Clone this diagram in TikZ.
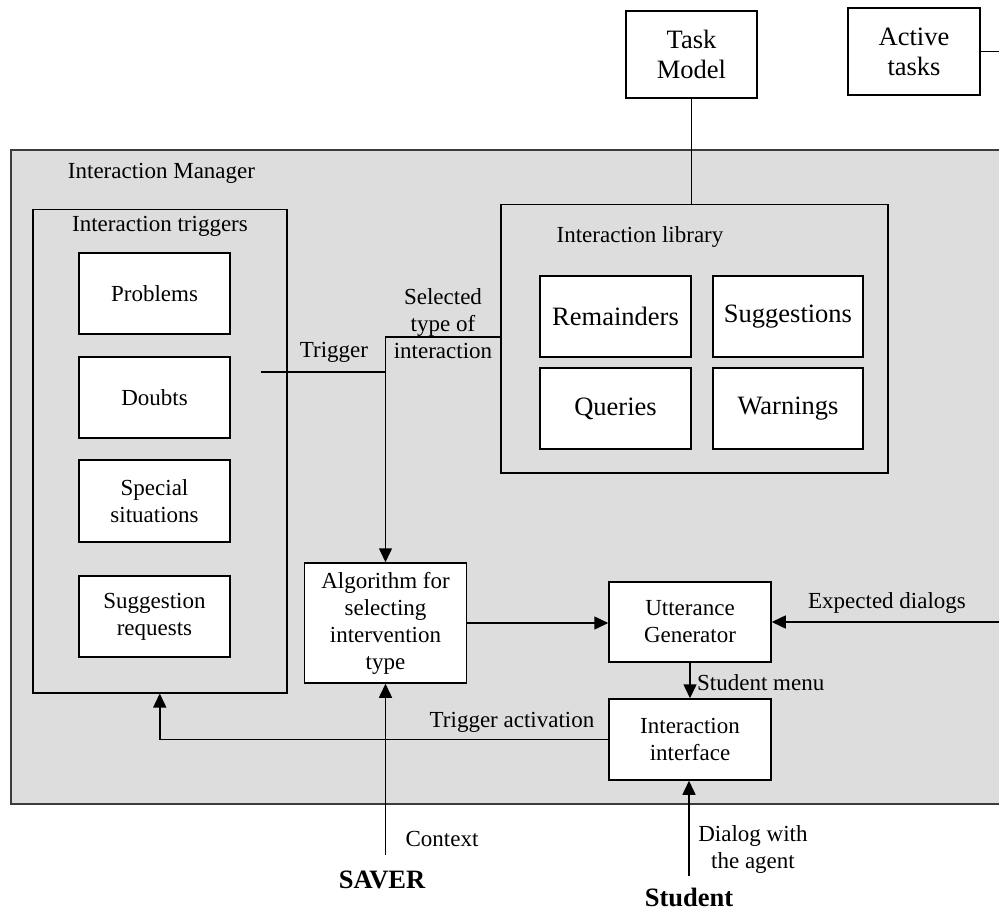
\documentclass[tikz,border=0pt]{standalone}
\usepackage{fontspec}
\setmainfont{Liberation Serif}
\usetikzlibrary{arrows.meta}

\definecolor{panelgray}{RGB}{221,221,221}
\definecolor{paneledge}{RGB}{60,60,60}

\tikzset{
  every node/.style={font=\fontsize{23}{27}\selectfont},
  bigtext/.style={font=\fontsize{26.5}{30}\selectfont},
  boldtext/.style={font=\fontsize{26.5}{30}\selectfont\bfseries},
  box/.style={draw=black, fill=white, line width=1.5pt, inner sep=0pt, align=center},
  groupbox/.style={draw=black, line width=1.5pt, inner sep=0pt},
  panelbox/.style={draw=paneledge, fill=panelgray, line width=1.7pt, inner sep=0pt},
  label/.style={inner sep=0pt, align=center},
  wire/.style={line width=1.5pt},
  arrow/.style={wire, -{Triangle[length=14pt,width=13pt]}}
}

\begin{document}
\begin{tikzpicture}[x=1pt,y=-1pt]
\clip (0,0) rectangle (999,912);
\fill[white] (0,0) rectangle (999,912);

% outer manager panel (runs past the right edge)
\node[panelbox, anchor=north west, minimum width=1010pt, minimum height=654pt] (im) at (10,149) {};
\node[label] (imlabel) at (161.5,173) {Interaction Manager};

% external models
\node[box, bigtext, minimum width=131pt, minimum height=87pt] (taskmodel) at (691.5,54.5) {Task\\Model};
\node[box, bigtext, minimum width=132pt, minimum height=87pt] (active) at (914,51.5) {Active\\tasks};

% trigger group
\node[groupbox, anchor=north west, minimum width=254pt, minimum height=483pt] (trig) at (32,209) {};
\node[label] (triglabel) at (160,226) {Interaction triggers};
\node[box, minimum width=151pt, minimum height=81pt] (problems) at (154.5,293.5) {Problems};
\node[box, minimum width=151pt, minimum height=81pt] (doubts) at (154.5,397.5) {Doubts};
\node[box, minimum width=151pt, minimum height=82pt] (special) at (154.5,501) {Special\\situations};
\node[box, minimum width=151pt, minimum height=81pt] (sugreq) at (154.5,616.5) {Suggestion\\requests};

% interaction library group
\node[groupbox, anchor=north west, minimum width=387pt, minimum height=268pt] (lib) at (500,204) {};
\node[label] (liblabel) at (640,237) {Interaction library};
\node[box, bigtext, minimum width=151pt, minimum height=81pt] (remainders) at (615.5,316.5) {Remainders};
\node[box, bigtext, minimum width=150pt, minimum height=81pt] (suggestions) at (788,316.5) {Suggestions};
\node[box, bigtext, minimum width=151pt, minimum height=81pt] (queries) at (615.5,408.5) {Queries};
\node[box, bigtext, minimum width=150pt, minimum height=81pt] (warnings) at (788,408.5) {Warnings};

% processing blocks
\node[box, minimum width=162pt, minimum height=120pt] (algo) at (385.5,623) {Algorithm for\\selecting\\intervention\\type};
\node[box, minimum width=162pt, minimum height=80pt] (utt) at (690,622) {Utterance\\Generator};
\node[box, minimum width=162pt, minimum height=81pt] (iface) at (690,739.5) {Interaction\\interface};

% external actors
\node[label, boldtext] (saver) at (382,880) {SAVER};
\node[label, boldtext] (student) at (689,897) {Student};

% connector labels
\node[label] (trigtxt) at (334,352) {Trigger};
\node[label] (seltxt) at (443,324) {Selected\\type of\\interaction};
\node[label] (exptxt) at (887,603) {Expected dialogs};
\node[label, anchor=west] (menutxt) at (697,683) {Student menu};
\node[label] (acttxt) at (512,722) {Trigger activation};
\node[label] (ctxtxt) at (442,839) {Context};
\node[label] (dlgtxt) at (753,849) {Dialog with\\the agent};

% free ends and bends
\coordinate (activeEnd) at (1005,51.5);
\coordinate (expStart) at (1005,622);
\coordinate (trigStart) at (261,372);
\coordinate (trigJoin) at (385.5,372);
\coordinate (selBend) at (385.5,337);
\coordinate (ctxStart) at (385.5,855);
\coordinate (dlgStart) at (689,876);

% connectors
\draw[wire] (taskmodel.south) -- (taskmodel.south |- lib.north);
\draw[wire] (active.east) -- (activeEnd);
\draw[wire] (trigStart) -- (trigJoin);
\draw[arrow] (lib.west |- selBend) -- (selBend) -- (algo.north);
\draw[arrow] (algo.east) -- (algo.east -| utt.west);
\draw[arrow] (expStart) -- (utt.east);
\draw[arrow] (utt.south) -- (iface.north);
\draw[arrow] (iface.west) -| (trig.south);
\draw[arrow] (ctxStart) -- (algo.south);
\draw[arrow] (dlgStart) -- (dlgStart |- iface.south);
\end{tikzpicture}
\end{document}
